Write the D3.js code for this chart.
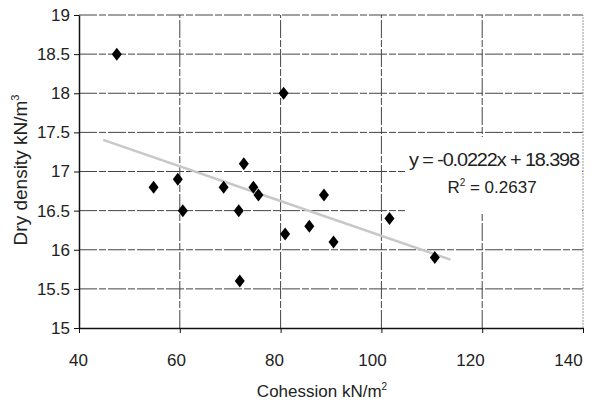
<!DOCTYPE html>
<html><head><meta charset="utf-8">
<script src="https://cdn.jsdelivr.net/npm/d3@7"></script>
<style>body{margin:0;background:#fff}svg{display:block}text{font-family:"Liberation Sans",Arial,sans-serif;fill:#222}</style>
</head><body><svg id="c" width="600" height="412"></svg>
<script>
const cohesion = [47.5, 54.8, 59.6, 60.6, 68.7, 71.7, 72.7, 74.6, 75.6, 71.9, 80.6, 80.9, 85.7, 88.6, 90.5, 101.6, 110.6];
const density  = [18.5, 16.8, 16.9, 16.5, 16.8, 16.5, 17.1, 16.8, 16.7, 15.6, 18.0, 16.2, 16.3, 16.7, 16.1, 16.4, 15.9];
const xTicks = [40, 60, 80, 100, 120, 140];
const yTicks = [15, 15.5, 16, 16.5, 17, 17.5, 18, 18.5, 19];
const trendSlope = -0.0222, trendIntercept = 18.398, trendRange = [44.8, 113.7];
const eqText = "y = -0.0222x + 18.398";
const r2Text = "0.2637";

const svg = d3.select("#c");
const x = d3.scaleLinear().domain([40, 140]).range([79, 583]);
const xLabel = d3.scaleLinear().domain([40, 140]).range([78, 568]);
const y = d3.scaleLinear().domain([15, 19]).range([328, 15]);

// grid
svg.append("g").selectAll("line").data(yTicks.slice(1)).join("line")
  .attr("x1", x(40)).attr("x2", x(140)).attr("y1", d => y(d)).attr("y2", d => y(d))
  .attr("stroke", "#444").attr("stroke-width", 1).attr("stroke-dasharray", "18,2,7,2");
svg.append("g").selectAll("line").data(xTicks.slice(1)).join("line")
  .attr("y1", y(15)).attr("y2", y(19)).attr("x1", d => x(d)).attr("x2", d => x(d))
  .attr("stroke", d => d === 140 ? "#999" : "#444").attr("stroke-width", 1)
  .attr("stroke-dasharray", d => d === 140 ? "2,1" : "18,2,7,2");

// axes
const xa = svg.append("g").attr("transform", `translate(0,${y(15)})`)
  .call(d3.axisBottom(x).tickValues(xTicks).tickSize(5).tickSizeOuter(0).tickPadding(21));
const ya = svg.append("g").attr("transform", `translate(${x(40)},0)`)
  .call(d3.axisLeft(y).tickValues(yTicks).tickSize(5).tickSizeOuter(0).tickPadding(4).tickFormat(d3.format("")));
[xa, ya].forEach(a => {
  a.select(".domain").attr("stroke", "#111").attr("stroke-width", 1.5);
  a.selectAll(".tick line").attr("stroke", "#111");
  a.selectAll("text").attr("font-size", 17).attr("font-family", "Liberation Sans, Arial").attr("fill", "#222");
});
xa.selectAll(".tick text").attr("x", d => xLabel(d) - x(d));
ya.selectAll(".tick line").attr("x2", 0).attr("x1", -5);

// trend line
svg.append("line")
  .attr("x1", x(trendRange[0])).attr("y1", y(trendSlope * trendRange[0] + trendIntercept))
  .attr("x2", x(trendRange[1])).attr("y2", y(trendSlope * trendRange[1] + trendIntercept))
  .attr("stroke", "#c8c8c8").attr("stroke-width", 2.5);

// label box
svg.append("rect").attr("x", 405).attr("y", 137).attr("width", 177).attr("height", 75).attr("fill", "#fff");
svg.append("text").attr("x", 494).attr("y", 166).attr("text-anchor", "middle")
  .attr("font-size", 18).attr("letter-spacing", -1).attr("textLength", 170).attr("lengthAdjust", "spacingAndGlyphs").text(eqText);
const r2 = svg.append("text").attr("x", 492).attr("y", 193).attr("text-anchor", "middle").attr("font-size", 17);
r2.append("tspan").text("R");
r2.append("tspan").attr("dy", -7).attr("font-size", 10).text("2");
r2.append("tspan").attr("dy", 7).text(" = " + r2Text);

// points (diamonds 10 wide x 13 tall)
const diamond = { draw(ctx) { ctx.moveTo(0, -6.5); ctx.lineTo(5, 0); ctx.lineTo(0, 6.5); ctx.lineTo(-5, 0); ctx.closePath(); } };
svg.append("g").selectAll("path").data(cohesion.map((c, i) => [c, density[i]])).join("path")
  .attr("d", d3.symbol(diamond))
  .attr("transform", d => `translate(${x(d[0])},${y(d[1])})`)
  .attr("fill", "#000");

// titles
svg.append("text").attr("x", 322).attr("y", 397).attr("text-anchor", "middle").attr("font-size", 17)
  .call(t => { t.append("tspan").text("Cohession kN/m"); t.append("tspan").attr("dy", -7).attr("font-size", 10).text("2"); });
svg.append("text").attr("transform", "translate(27,170) rotate(-90)").attr("text-anchor", "middle").attr("font-size", 19)
  .call(t => { t.append("tspan").text("Dry density kN/m"); t.append("tspan").attr("dy", -8).attr("font-size", 11).text("3"); });
</script></body></html>
